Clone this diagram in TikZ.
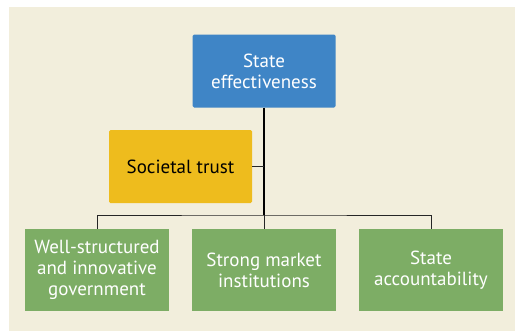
\documentclass[tikz,border=0pt]{standalone}
\usepackage{fontspec}
\setmainfont{PT Sans}
\definecolor{bgc}{HTML}{F2EEDC}
\definecolor{bluec}{HTML}{3F85C6}
\definecolor{yelc}{HTML}{EEBC1D}
\definecolor{grnc}{HTML}{7DAD65}
\begin{document}
\begin{tikzpicture}[x=1pt,y=-1pt,
  box/.style={rounded corners=1.5pt,minimum width=143pt,minimum height=73pt,align=center,font=\fontsize{19}{21}\selectfont,inner sep=0pt},
  gbox/.style={box,fill=grnc,text=white,minimum width=144pt,minimum height=82pt,rounded corners=0pt},
  conn/.style={line width=1pt,draw=black!85}]
\useasboundingbox (0,0) rectangle (515,332);
\fill[white] (0,0) rectangle (515,332);
\fill[bgc] (9,7) rectangle (515,331);
\node[box,fill=bluec,text=white] (se) at (264,71) {State\\effectiveness};
\node[box,fill=yelc,text=black] (st) at (180.5,166.5) {Societal trust};
\node[gbox] (g1) at (97,270) {Well-structured\\and innovative\\government};
\node[gbox] (g2) at (264,270) {Strong market\\institutions};
\node[gbox] (g3) at (431,270) {State\\accountability};
\coordinate (bar) at (264,215);
\draw[line width=1.5pt] (se.south) -- (bar);
\draw[conn] (st.east) -- (st.east -| se.south);
\draw[conn] (g1.north) |- (bar) -| (g3.north);
\draw[conn] (bar) -- (g2.north);
\end{tikzpicture}
\end{document}
